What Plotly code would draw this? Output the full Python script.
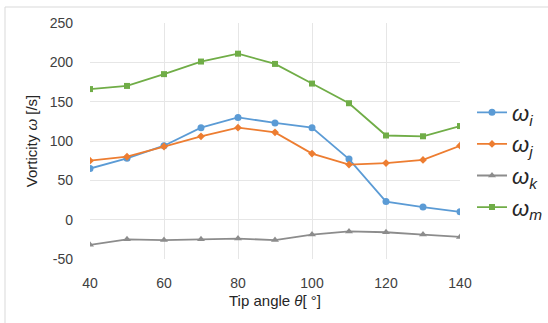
import plotly.graph_objects as go

angles = [40, 50, 60, 70, 80, 90, 100, 110, 120, 130, 140]
omega_i = [65, 78, 94, 117, 130, 123, 117, 77, 23, 16, 10]
omega_j = [75, 80, 93, 106, 117, 111, 84, 70, 72, 76, 94]
omega_k = [-32, -25, -26, -25, -24, -26, -19, -15, -16, -19, -22]
omega_m = [166, 170, 185, 201, 211, 198, 173, 148, 107, 106, 119]

x_ticks = [40, 60, 80, 100, 120, 140]
y_ticks = [-50, 0, 50, 100, 150, 200, 250]
y_ticktext = ["-50", "0", "50", "100", "150", "200", "250"]

names = ["<i>ω</i><sub><i>i</i></sub>", "<i>ω</i><sub><i>j</i></sub>",
         "<i>ω</i><sub><i>k</i></sub>", "<i>ω</i><sub><i>m</i></sub>"]
colors = ["#5B9BD5", "#ED7D31", "#8C8C8C", "#70AD47"]
symbols = ["circle", "diamond", "triangle-up", "square"]
sizes = [7, 6, 7, 6]
series = [omega_i, omega_j, omega_k, omega_m]

fig = go.Figure()
for nm, c, s, sz, ys in zip(names, colors, symbols, sizes, series):
    fig.add_trace(go.Scatter(x=angles, y=ys, name=nm, mode="lines+markers",
                             line=dict(color=c, width=1.8),
                             marker=dict(color=c, symbol=s, size=sz)))

W, H = 548, 323
l, r, t, b = 90, 88, 23, 64
pw, ph = W - l - r, H - t - b

def px_to_paper_x(px):
    return (px - l) / pw

def px_to_paper_y(py):
    return 1 - (py - t) / ph

fig.add_shape(type="rect", xref="paper", yref="paper",
              x0=px_to_paper_x(5), x1=px_to_paper_x(560),
              y0=px_to_paper_y(340), y1=px_to_paper_y(7),
              line=dict(color="#D9D9D9", width=1), fillcolor="rgba(0,0,0,0)",
              layer="below")

fig.update_layout(
    width=W, height=H,
    margin=dict(l=l, r=r, t=t, b=b, autoexpand=False),
    paper_bgcolor="white", plot_bgcolor="white",
    font=dict(family="Liberation Sans, Arial", color="#404040", size=14),
    xaxis=dict(range=[40, 140], tickvals=x_ticks,
               showgrid=True, gridcolor="#E6E6E6", gridwidth=1,
               zeroline=False, showline=False, ticks="",
               ticklabelstandoff=14,
               tickfont=dict(size=14, color="#404040"),
               title=dict(text="Tip angle <i>θ</i>[ °]", font=dict(size=15, color="#262626"),
                          standoff=5)),
    yaxis=dict(range=[-50, 250], tickvals=y_ticks, ticktext=y_ticktext,
               showgrid=True, gridcolor="#E6E6E6", gridwidth=1,
               zeroline=False, showline=False, ticks="",
               ticklabelstandoff=16,
               tickfont=dict(size=14, color="#404040"),
               title=dict(text="Vorticity <i>ω</i> [/s]", font=dict(size=15, color="#262626"),
                          standoff=8)),
    legend=dict(x=px_to_paper_x(472), y=px_to_paper_y(160), xanchor="left", yanchor="middle",
                font=dict(size=22, color="#262626"), bgcolor="rgba(0,0,0,0)",
                itemwidth=30, tracegroupgap=0),
    showlegend=True,
)

fig.write_html("out.html")
